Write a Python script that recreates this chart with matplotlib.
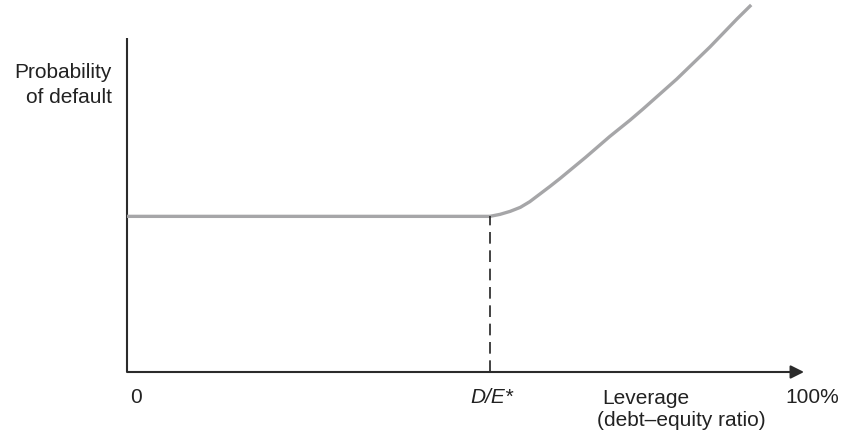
import matplotlib
matplotlib.use("Agg")
import matplotlib.pyplot as plt

plt.rcParams['font.family'] = ['Liberation Sans', 'DejaVu Sans']

# Data (leverage in %, probability of default in arbitrary units)
leverage = [0, 53.6, 55.1, 56.6, 58.1, 59.5, 61.0, 62.5, 64.0, 67.7, 71.3, 74.3,
            76.2, 81.2, 86.1, 90.1, 92.2]
prob_default = [46.6, 46.6, 47.2, 48.1, 49.3, 51.0, 53.3, 55.6, 58.0, 64.2, 70.5,
                75.4, 78.7, 87.7, 97.3, 105.7, 109.9]
de_star = 53.6
x_labels = ["0", "D/E*", "100%"]
x_label_pos = [1.3, 53.9, 101.2]

W, H = 843, 435
fig = plt.figure(figsize=(W / 100, H / 100), dpi=100)
ax = fig.add_axes([127 / W, (H - 373) / H, (804 - 127) / W, (373 - 39) / H])
ax.set_xlim(0, 100)
ax.set_ylim(0, 100)
ax.axis('off')

axis_col = '#2b2b2b'
# y axis
ax.plot([0, 0], [0, 100], color=axis_col, lw=1.5, clip_on=False, solid_capstyle='butt')
# x axis with arrow
ax.annotate('', xy=(100, 0), xytext=(0, 0),
            arrowprops=dict(arrowstyle='-|>,head_length=0.4,head_width=0.2',
                            color=axis_col, lw=1.5, mutation_scale=20,
                            shrinkA=0, shrinkB=0),
            annotation_clip=False)

# curve
ax.plot(leverage, prob_default, color='#a6a6a8', lw=2.4, clip_on=False,
        solid_capstyle='butt', solid_joinstyle='round')

# dashed line at D/E*
ax.plot([de_star, de_star], [0, prob_default[1]], color='#222222', lw=1.2,
        dashes=(7, 4), clip_on=False)

fs = 15
tc = '#222222'
ax.text(-2.2, 86.2, "Probability\nof default", ha='right', va='center',
        multialignment='right', fontsize=fs, color=tc, linespacing=1.4)

for lab, xp in zip(x_labels, x_label_pos):
    style = 'italic' if lab == "D/E*" else 'normal'
    ax.text(xp, -7.3, lab, ha='center', va='center', fontsize=fs, color=tc,
            style=style, clip_on=False)

ax.text(70.2, -7.5, "Leverage", ha='left', va='center', fontsize=fs, color=tc)
ax.text(69.4, -14.1, "(debt\u2013equity ratio)", ha='left', va='center',
        fontsize=fs, color=tc)

fig.savefig("out.png", dpi=100)
